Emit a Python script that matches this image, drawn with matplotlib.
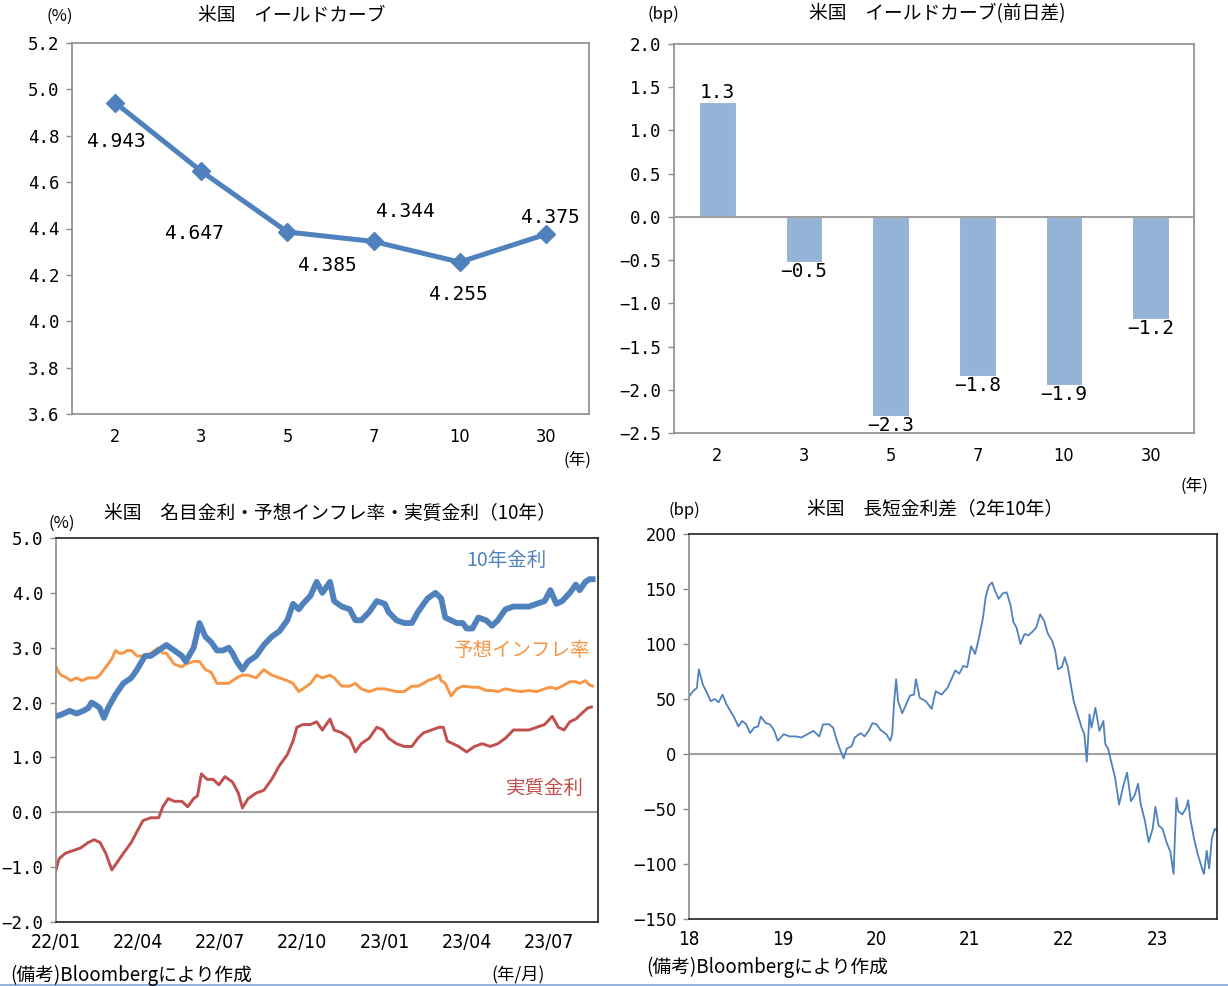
import numpy as np
import matplotlib
matplotlib.use("Agg")
import matplotlib.pyplot as plt
from matplotlib.lines import Line2D

plt.rcParams["font.family"] = ["Noto Sans CJK JP", "DejaVu Sans"]

W, H = 1228, 986
JP = ["Noto Sans CJK JP", "DejaVu Sans"]
MONO = ["DejaVu Sans Mono"]
NARROW = ["DejaVu Sans"]

# ---------------------------------------------------------------------------
# data
# ---------------------------------------------------------------------------
maturities = ["2", "3", "5", "7", "10", "30"]
curve_yield = [4.943, 4.647, 4.385, 4.344, 4.255, 4.375]
curve_change = [1.33, -0.52, -2.30, -1.84, -1.94, -1.18]

# months since 2022/01
nom_t = [0, 0.19, 0.5, 0.75, 1.0, 1.18, 1.3, 1.47, 1.6, 1.75, 1.9, 2.18, 2.46, 2.75, 2.96,
         3.25, 3.46, 3.75, 4.03, 4.32, 4.6, 4.74, 5.03, 5.24, 5.46, 5.67, 5.88, 6.1, 6.31,
         6.45, 6.6, 6.81, 7.02, 7.31, 7.59, 7.88, 8.16, 8.45, 8.66, 8.87, 9.02, 9.3, 9.52,
         9.73, 10.01, 10.16, 10.44, 10.73, 10.94, 11.15, 11.44, 11.72, 12.01, 12.15, 12.44,
         12.72, 13.0, 13.22, 13.43, 13.58, 13.86, 14.07, 14.22, 14.43, 14.64, 14.86, 15.0,
         15.21, 15.43, 15.71, 15.93, 16.14, 16.42, 16.71, 16.99, 17.28, 17.56, 17.85, 18.06,
         18.28, 18.49, 18.77, 18.99, 19.13, 19.34, 19.49, 19.6]
nom_v = [1.75, 1.78, 1.85, 1.8, 1.85, 1.9, 2.0, 1.95, 1.9, 1.72, 1.9, 2.15, 2.35, 2.45, 2.6,
         2.85, 2.85, 2.95, 3.05, 2.95, 2.85, 2.75, 3.0, 3.45, 3.2, 3.1, 2.95, 2.95, 3.0,
         2.9, 2.75, 2.6, 2.75, 2.85, 3.05, 3.2, 3.3, 3.5, 3.8, 3.7, 3.8, 3.95, 4.2,
         4.0, 4.2, 3.85, 3.75, 3.7, 3.5, 3.5, 3.65, 3.85, 3.8, 3.65, 3.5,
         3.45, 3.45, 3.65, 3.8, 3.9, 4.0, 3.9, 3.55, 3.5, 3.45, 3.45, 3.35,
         3.35, 3.55, 3.5, 3.4, 3.5, 3.7, 3.75, 3.75, 3.75, 3.8, 3.85, 4.05,
         3.8, 3.85, 4.0, 4.15, 4.05, 4.2, 4.25, 4.25]

be_t = [0, 0.1, 0.19, 0.4, 0.54, 0.75, 0.95, 1.18, 1.47, 1.6, 1.75, 1.9, 2.04, 2.18, 2.3,
        2.46, 2.6, 2.75, 2.96, 3.18, 3.46, 3.6, 3.75, 3.9, 4.03, 4.32, 4.6, 4.74, 5.03, 5.24,
        5.46, 5.67, 5.88, 6.1, 6.31, 6.45, 6.6, 6.81, 7.02, 7.31, 7.59, 7.88, 8.16, 8.45, 8.66,
        8.87, 9.02, 9.3, 9.52, 9.73, 10.01, 10.16, 10.44, 10.73, 10.94, 11.15, 11.44, 11.72,
        12.01, 12.44, 12.72, 13.0, 13.22, 13.43, 13.58, 13.86, 14.0, 14.07, 14.22, 14.43,
        14.64, 14.86, 15.21, 15.43, 15.71, 15.93, 16.14, 16.42, 16.71, 16.99, 17.28, 17.56,
        17.85, 18.06, 18.28, 18.49, 18.77, 18.99, 19.13, 19.34, 19.49, 19.6]
be_v = [2.65, 2.55, 2.5, 2.45, 2.4, 2.45, 2.4, 2.45, 2.45, 2.5, 2.6, 2.7, 2.8, 2.95, 2.9,
        2.9, 2.95, 2.95, 2.85, 2.85, 2.9, 2.95, 3.0, 2.9, 2.9, 2.7, 2.65, 2.7, 2.75, 2.75,
        2.6, 2.55, 2.35, 2.35, 2.35, 2.4, 2.45, 2.5, 2.5, 2.45, 2.6, 2.5, 2.45, 2.4, 2.35,
        2.2, 2.25, 2.35, 2.5, 2.45, 2.5, 2.45, 2.3, 2.3, 2.35, 2.25, 2.2, 2.25,
        2.25, 2.2, 2.2, 2.3, 2.3, 2.35, 2.4, 2.45, 2.5, 2.4, 2.35, 2.12,
        2.25, 2.3, 2.28, 2.28, 2.22, 2.22, 2.2, 2.25, 2.22, 2.2, 2.22, 2.2,
        2.25, 2.28, 2.25, 2.3, 2.38, 2.38, 2.35, 2.4, 2.32, 2.3]

real_t = [0, 0.11, 0.33, 0.61, 0.9, 1.18, 1.39, 1.61, 1.82, 2.04, 2.25, 2.46, 2.75, 2.96,
          3.18, 3.46, 3.75, 3.9, 4.1, 4.32, 4.6, 4.81, 5.03, 5.17, 5.31, 5.52, 5.74, 5.95,
          6.17, 6.45, 6.66, 6.81, 7.02, 7.31, 7.59, 7.88, 8.16, 8.45, 8.66, 8.8, 9.02, 9.3,
          9.52, 9.73, 10.01, 10.16, 10.44, 10.73, 10.94, 11.15, 11.44, 11.72, 11.94, 12.15,
          12.44, 12.72, 13.0, 13.22, 13.43, 13.72, 14.0, 14.15, 14.29, 14.5, 14.71, 15.0,
          15.29, 15.57, 15.86, 16.14, 16.42, 16.71, 16.99, 17.28, 17.56, 17.85, 18.13,
          18.35, 18.56, 18.77, 18.99, 19.2, 19.42, 19.56]
real_v = [-1.05, -0.85, -0.75, -0.7, -0.65, -0.55, -0.5, -0.55, -0.75, -1.05, -0.9, -0.75,
          -0.55, -0.35, -0.15, -0.1, -0.1, 0.1, 0.25, 0.2, 0.2, 0.1, 0.25, 0.3, 0.7, 0.6,
          0.6, 0.5, 0.65, 0.55, 0.35, 0.08, 0.25, 0.35, 0.4, 0.6, 0.85, 1.05, 1.3, 1.55,
          1.6, 1.6, 1.65, 1.5, 1.7, 1.5, 1.45, 1.35, 1.1, 1.25, 1.35, 1.55, 1.5, 1.35,
          1.25, 1.2, 1.2, 1.35, 1.45, 1.5, 1.55, 1.55, 1.3, 1.25, 1.2, 1.1, 1.2, 1.25,
          1.2, 1.25, 1.35, 1.5, 1.5, 1.5, 1.55, 1.6, 1.75, 1.55, 1.5, 1.65, 1.7, 1.8,
          1.9, 1.92]
month_ticks = [0, 3, 6, 9, 12, 15, 18]
month_labels = ["22/01", "22/04", "22/07", "22/10", "23/01", "23/04", "23/07"]

# years since 2018
spread_t = [0.000, 0.042, 0.084, 0.105, 0.148, 0.190, 0.232, 0.274, 0.316, 0.358,
            0.401, 0.443, 0.485, 0.527, 0.569, 0.611, 0.653, 0.696, 0.738, 0.767,
            0.822, 0.864, 0.906, 0.949, 1.012, 1.075, 1.138, 1.202, 1.265, 1.328,
            1.391, 1.433, 1.497, 1.539, 1.581, 1.623, 1.653, 1.686, 1.737, 1.771,
            1.834, 1.876, 1.918, 1.960, 2.003, 2.045, 2.108, 2.150, 2.171, 2.192,
            2.213, 2.234, 2.277, 2.319, 2.361, 2.403, 2.424, 2.466, 2.530, 2.593,
            2.635, 2.698, 2.761, 2.804, 2.846, 2.888, 2.930, 2.972, 3.014, 3.057,
            3.099, 3.141, 3.170, 3.204, 3.238, 3.267, 3.309, 3.352, 3.394, 3.436,
            3.465, 3.499, 3.541, 3.584, 3.626, 3.668, 3.710, 3.752, 3.794, 3.836,
            3.879, 3.912, 3.942, 3.984, 4.014, 4.047, 4.081, 4.110, 4.153, 4.195,
            4.224, 4.250, 4.279, 4.300, 4.342, 4.385, 4.427, 4.448, 4.477, 4.511,
            4.553, 4.595, 4.637, 4.680, 4.722, 4.764, 4.798, 4.827, 4.869, 4.911,
            4.954, 4.983, 5.017, 5.059, 5.101, 5.143, 5.177, 5.207, 5.228, 5.270,
            5.312, 5.333, 5.354, 5.396, 5.438, 5.481, 5.502, 5.531, 5.557, 5.586,
            5.616, 5.641]
spread_v = [52, 57, 60, 77, 63, 56, 48, 50, 47, 54,
            45, 39, 33, 25, 30, 27, 19, 24, 25, 34,
            28, 27, 22, 12, 18, 16, 16, 15, 18, 21,
            16, 27, 27, 24, 12, 2, -4, 5, 7, 15,
            19, 16, 21, 28, 27, 22, 18, 12, 18, 48,
            68, 48, 37, 45, 53, 54, 68, 51, 48, 41,
            57, 54, 60, 68, 76, 73, 80, 79, 98, 91,
            106, 124, 143, 153, 156, 149, 141, 146, 147, 135,
            120, 115, 100, 109, 108, 111, 115, 127, 121, 109,
            103, 94, 77, 79, 88, 79, 62, 48, 36, 24,
            18, -7, 36, 24, 42, 21, 30, 9, 5, -7,
            -22, -46, -30, -17, -43, -37, -27, -46, -60, -80,
            -68, -48, -65, -68, -80, -89, -109, -40, -52, -55,
            -49, -42, -58, -77, -92, -104, -109, -88, -104, -77,
            -68, -70]
year_ticks = [0, 1, 2, 3, 4, 5]
year_labels = ["18", "19", "20", "21", "22", "23"]

BLUE = "#4F81BD"
BAR = "#95B3D7"
ORANGE = "#F79646"
RED = "#C0504D"
GRAY = "#8C8C8C"


def box(l, t, r, b):
    """axes rect from pixel edges"""
    return [l / W, 1 - b / H, (r - l) / W, (b - t) / H]


def ftext(x, y, s, **kw):
    kw.setdefault("ha", "center")
    kw.setdefault("va", "center")
    kw.setdefault("family", JP)
    fig.text(x / W, 1 - y / H, s, **kw)


def fmt(v):
    return f"{v:.1f}".replace("-", "\u2212")


def style_axes(ax, left_col, other_col):
    ax.spines["left"].set_color(left_col)
    for s in ("top", "right", "bottom"):
        ax.spines[s].set_color(other_col)
    for s in ax.spines.values():
        s.set_linewidth(1.2)
    ax.tick_params(axis="y", direction="out", length=4, width=1, color=GRAY, pad=5)
    ax.tick_params(axis="x", length=0, pad=10)


fig = plt.figure(figsize=(W / 100, H / 100), dpi=100)

# --- panel 1: yield curve -------------------------------------------------
ax1 = fig.add_axes(box(72, 43, 589, 414))
xi = np.arange(len(maturities))
ax1.plot(xi, curve_yield, color=BLUE, lw=3.6, marker="D", ms=9, mec=BLUE)
ax1.set_xlim(-0.5, len(maturities) - 0.5)
ax1.set_ylim(3.6, 5.2)
yt = np.arange(3.6, 5.21, 0.2)
ax1.set_yticks(yt, [fmt(v) for v in yt], family=MONO, fontsize=12.5)
ax1.set_xticks(xi, maturities, family=NARROW, stretch="condensed", fontsize=13)
style_axes(ax1, GRAY, GRAY)
# label offsets in pixels (x right, y up)
offs1 = [(1, -39), (-7, -62), (40, -34), (32, 30), (-1, -32), (4, 17)]
for i, v in enumerate(curve_yield):
    ax1.annotate(f"{v:.3f}", (i, v), xytext=offs1[i], textcoords="offset pixels",
                 ha="center", va="center", family=MONO, fontsize=14)
ftext(60, 16, "(%)", fontsize=12)
ftext(292, 16, "米国\u3000イールドカーブ", fontsize=13.5)
ftext(577, 460, "(年)", fontsize=12)

# --- panel 2: change bars -------------------------------------------------
ax2 = fig.add_axes(box(674, 44, 1194, 433))
ax2.bar(xi, curve_change, width=0.42, color=BAR, edgecolor="white", lw=0.8, zorder=2)
ax2.axhline(0, color="#A0A0A0", lw=1.5, zorder=3)
ax2.set_xlim(-0.5, len(maturities) - 0.5)
ax2.set_ylim(-2.5, 2.0)
yt = np.arange(-2.5, 2.01, 0.5)
ax2.set_yticks(yt, [fmt(v) for v in yt], family=MONO, fontsize=12.5)
ax2.set_xticks(xi, maturities, family=NARROW, stretch="condensed", fontsize=13)
style_axes(ax2, GRAY, GRAY)
for i, v in enumerate(curve_change):
    dy = 9 if v > 0 else -10
    ax2.annotate(fmt(v), (i, v), xytext=(0, dy), textcoords="offset pixels",
                 ha="center", va="center", family=MONO, fontsize=14, zorder=4)
ftext(663, 14, "(bp)", fontsize=12)
ftext(937, 14, "米国\u3000イールドカーブ(前日差)", fontsize=13.5)
ftext(1194, 486, "(年)", fontsize=12)

# --- panel 3: nominal / breakeven / real ---------------------------------
ax3 = fig.add_axes(box(56, 538, 598, 922))
ax3.axhline(0, color="#A0A0A0", lw=1.5, zorder=1)
ax3.plot(be_t, be_v, color=ORANGE, lw=2.1, zorder=2)
ax3.plot(real_t, real_v, color=RED, lw=2.1, zorder=2)
ax3.plot(nom_t, nom_v, color=BLUE, lw=4.2, zorder=3)
ax3.set_xlim(0, 19.8)
ax3.set_ylim(-2.0, 5.0)
yt = np.arange(-2.0, 5.01, 1.0)
ax3.set_yticks(yt, [fmt(v) for v in yt], family=MONO, fontsize=12.5)
ax3.set_xticks(month_ticks, month_labels, family=NARROW, stretch="condensed", fontsize=14)
style_axes(ax3, GRAY, "#202020")
ax3.tick_params(axis="x", pad=8)
ftext(506, 560, "10年金利", fontsize=14, color=BLUE)
ftext(522, 651, "予想インフレ率", fontsize=14, color=ORANGE)
ftext(545, 788, "実質金利", fontsize=14, color=RED)
ftext(62, 523, "(%)", fontsize=12)
ftext(330, 513, "米国\u3000名目金利・予想インフレ率・実質金利（10年）", fontsize=13.5)
ftext(10, 975, "(備考)Bloombergにより作成", fontsize=13.5, ha="left")
ftext(518, 975, "(年/月)", fontsize=12.5)

# --- panel 4: 2s10s spread ------------------------------------------------
ax4 = fig.add_axes(box(689, 534, 1217, 919))
ax4.axhline(0, color="#A0A0A0", lw=1.5, zorder=1)
ax4.plot(spread_t, spread_v, color=BLUE, lw=1.3, zorder=2)
ax4.set_xlim(0, 5.641)
ax4.set_ylim(-150, 200)
yt = np.arange(-150, 201, 50)
ax4.set_yticks(yt, [f"{v:d}".replace("-", "\u2212") for v in yt],
               family=NARROW, stretch="condensed", fontsize=13)
ax4.set_xticks(year_ticks, year_labels, family=NARROW, stretch="condensed", fontsize=13.5)
style_axes(ax4, GRAY, "#202020")
ax4.tick_params(axis="x", pad=8)
ftext(684, 510, "(bp)", fontsize=12)
ftext(935, 510, "米国\u3000長短金利差（2年10年）", fontsize=13.5)
ftext(646, 967, "(備考)Bloombergにより作成", fontsize=13.5, ha="left")

# thin page rule at the bottom
fig.add_artist(Line2D([0, 1], [1 - 984.5 / H] * 2, color="#7FA6D6", lw=1.2))

fig.savefig("out.png", dpi=100, facecolor="white")
